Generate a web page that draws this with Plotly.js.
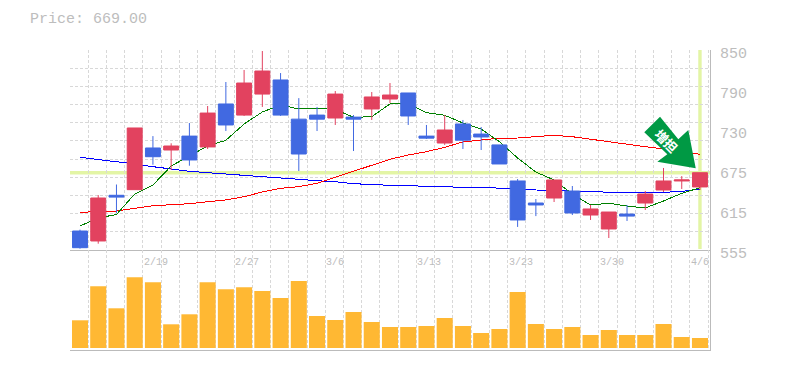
<!DOCTYPE html>
<html><head><meta charset="utf-8">
<script src="https://cdn.plot.ly/plotly-3.0.1.min.js"></script>
<style>html,body{margin:0;padding:0;background:#fff}#c{width:785px;height:370px}
.scatterlayer .js-line{shape-rendering:crispEdges}
</style>
</head><body><div id="c"></div>
<script>
const openP=[583,568.3,635.7,644,705.5,702.5,723,707,770.4,754,785,805.8,748,754,749.7,751,763,777.7,786.6,723,712.8,740.9,726,710,656.8,624.3,631.7,642,606.6,586,608,624.3,643.5,656.8,648];
const closeP=[558.4,631.7,633,735,692.6,708.4,687.8,757,739.4,801.3,819,754,696.6,748,785,748,780.7,783.6,752.7,720,732,717,721.7,681.9,599.3,621.4,658.3,609.6,615.5,611,605,637.6,656.8,658.3,669];
const highP=[585,636,651.6,735,723,712.4,742.3,767.4,802.8,820.5,848.5,816,779,766,789.5,754,788,801.3,786.6,739.4,754,746.8,736.4,710,659.7,630.2,658.3,649.4,621.4,611,621.4,642,676,664,669];
const lowP=[557,564.3,609.6,644,680.8,673,679.3,704,730.5,752.7,766,752.7,671.5,730.5,739.4,701,746.8,771.8,739.4,718.7,710,704,702.5,681.9,589,605,625.8,606.6,599.3,572.7,597.8,614,640.5,645,643.5];
const maShort=[590.4,602.2,607.4,637.6,650.9,678.9,693.7,708.4,716.8,740.9,758.6,768.9,763,764,762.2,750.7,751.6,770.4,770.4,757.5,753.7,742.3,733.5,714.7,690.7,670,658.3,637.6,621.4,623.9,619.9,617,627.3,638.6,646.9];
const maMid=[691.7,688.5,685.5,681.9,677.9,674.5,671.1,669,667.1,665.2,664.2,662.2,659.3,657.2,655.7,652.8,651.3,650.4,649.8,648.9,647.5,647.5,647.5,646,645.4,643.5,643,641.6,641.6,640.1,640.1,640.1,640.1,641.3,645];
const maLong=[610.6,611.5,612.5,616.5,620.3,621.8,623.3,626.2,628.8,633.6,640.6,646,648.4,653.4,662.2,670.5,680.4,688.8,695.1,700,706.5,714.3,717.3,719.8,720.2,722.7,724.2,722.1,718.3,713.9,710.3,707.4,704,700,696.2];
const volume=[27.7,61.7,39.7,70.7,65.7,23.7,33.7,65.7,58.7,60.7,57,50,67,32,28,36,26,21,21,22,30,22,15,19,56,24,19,21,13,18,13,13,24,11,10];
const dateIdx=[4,9,14,19,24,29,34];
const dateLabels=['2/19','2/27','3/6','3/13','3/23','3/30','4/6'];
const priceTicks=[850,791,732,673,614,555];
const priceLabels=['850','790','730','675','615','555'];
const lastPrice=669;
const xs=openP.map((_,i)=>i);

const grey='#bdbdbd', gridc='#d8d8d8', pale='#e3f5a5', red='#e2425f', blue='#4169e1';
const mono='"Liberation Mono",monospace';
const priceRange=[555,850];
const xRange=[-0.548,34.55];
const line=(y,color,name)=>({type:'scatter',mode:'lines',x:xs,y:y,name:name,line:{color:color,width:1},xaxis:'x',yaxis:'y',hoverinfo:'skip'});
const traces=[
 line(maMid,'#0000ff','MA mid'),line(maLong,'#ff0000','MA long'),line(maShort,'#008000','MA short'),
 {type:'candlestick',x:xs,open:openP,high:highP,low:lowP,close:closeP,xaxis:'x',yaxis:'y2',
  increasing:{line:{color:red,width:1},fillcolor:red},decreasing:{line:{color:blue,width:1},fillcolor:blue},whiskerwidth:0},
 {type:'bar',x:xs,y:volume,xaxis:'x2',yaxis:'y3',marker:{color:'#ffb833',line:{width:0}},width:0.88}
];
const layout={
 width:785,height:370,margin:{l:70,r:75,t:50,b:20},paper_bgcolor:'#fff',plot_bgcolor:'#fff',showlegend:false,
 boxgap:0.18,boxgroupgap:0,bargap:0.12,dragmode:false,
 title:{text:'Price: '+lastPrice.toFixed(2),x:30/785,xanchor:'left',y:1-18/370,yanchor:'middle',font:{family:mono,size:15,color:grey}},
 xaxis:{domain:[0,1],range:xRange,anchor:'y',tick0:xRange[0],dtick:1,tickmode:'linear',showgrid:true,gridcolor:gridc,griddash:'3px,2px',gridwidth:1,
  showticklabels:false,ticks:'',zeroline:false,showline:true,linecolor:'#bbb',linewidth:1,rangeslider:{visible:false}},
 xaxis2:{domain:[0,1],range:xRange,anchor:'y3',tick0:xRange[0],dtick:1,tickmode:'linear',showgrid:true,gridcolor:gridc,griddash:'3px,2px',zeroline:false,showline:true,linecolor:'#bbb',linewidth:1,side:'bottom',showticklabels:false,ticks:''},
 yaxis:{domain:[1/3,1],range:priceRange,anchor:'x',side:'right',showgrid:true,gridcolor:gridc,griddash:'3px,2px',tickmode:'linear',tick0:555,dtick:295/11,showticklabels:false,ticks:'',zeroline:false,showline:true,linecolor:'#bbb',linewidth:1},
 yaxis2:{domain:[1/3,1],range:priceRange,overlaying:'y',anchor:'x',side:'right',showgrid:false,tickmode:'array',tickvals:priceTicks,ticktext:priceLabels,ticks:'',
  ticklabelstandoff:9,ticklabelshift:3,ticklabeloverflow:'allow',tickfont:{family:mono,size:15,color:grey},zeroline:false},
 yaxis3:{domain:[0,1/3],range:[-2,98],anchor:'x2',side:'right',showgrid:false,showticklabels:false,ticks:'',zeroline:false,showline:true,linecolor:'#bbb',linewidth:1},
 annotations:[
  ...dateIdx.map((d,i)=>({xref:'x',yref:'paper',x:d+xRange[0],y:1/3,xanchor:'left',yanchor:'top',yshift:-6,text:dateLabels[i],showarrow:false,align:'left',borderpad:0,
    font:{family:mono,size:10,color:grey}})),
  {xref:'paper',yref:'paper',x:(666.5-70)/640,y:(350-140)/300,xanchor:'center',yanchor:'middle',text:'<b>増担</b>',showarrow:false,textangle:45,font:{family:'"Noto Sans CJK JP"',size:13,color:'#fff'}}
 ],
 shapes:[
  {type:'line',xref:'x',yref:'y',x0:xRange[0],x1:xRange[1],y0:lastPrice,y1:lastPrice,layer:'below',line:{color:pale,width:3.4}},
  {type:'line',xref:'x',yref:'y',x0:34,x1:34,y0:priceRange[0]+1.5,y1:priceRange[1],layer:'below',line:{color:pale,width:3.4}},
  {type:'path',xref:'paper',yref:'paper',layer:'above',fillcolor:'#009944',line:{width:0},
   path:[[660,116.7],[644.3,132.3],[667.3,154.3],[657.3,161.7],[695.7,168.3],[688.3,130],[678.3,139.3]].map((p,i)=>(i?'L':'M')+((p[0]-70)/640).toFixed(4)+','+((350-p[1])/300).toFixed(4)).join(' ')+' Z'}
 ]
};
Plotly.newPlot('c',traces,layout,{displayModeBar:false,staticPlot:true});
</script></body></html>
